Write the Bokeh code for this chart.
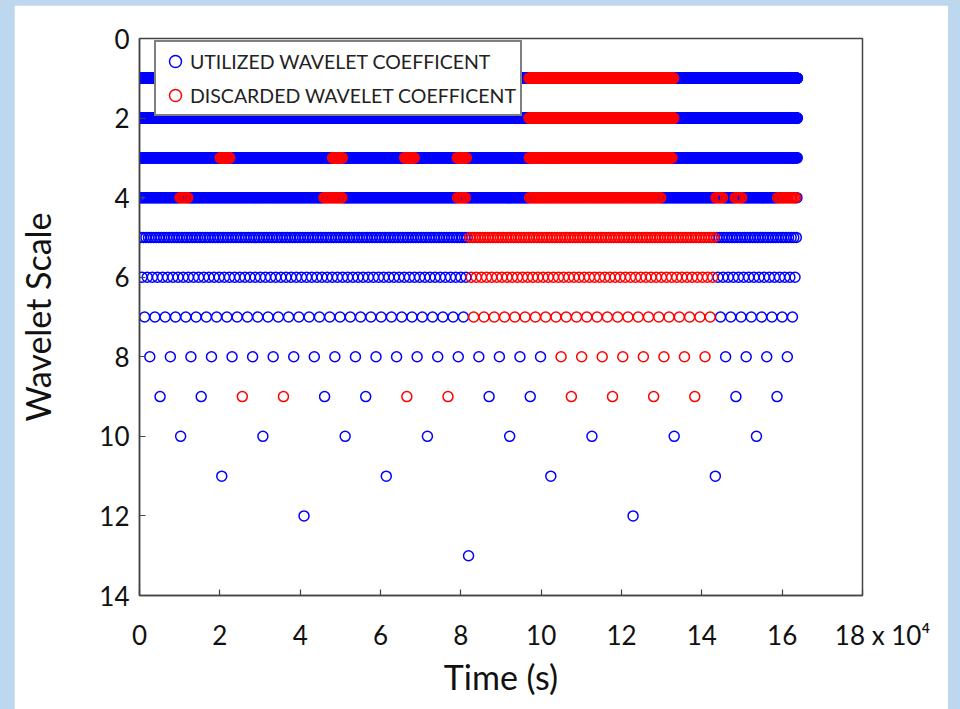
import numpy as np
from bokeh.plotting import figure
from bokeh.models import (Range1d, ColumnDataSource, Legend, LegendItem,
                          GlobalInlineStyleSheet)
from bokeh.embed import file_html
from bokeh.resources import INLINE

# ---- data -------------------------------------------------------------
scales = list(range(1, 14))          # wavelet scale levels
n_samples = 8192                     # signal length (samples)
dt_s = 20.0                          # sampling interval (s)
time_unit = 1e4                      # axis shown in units of 10^4 s

# discarded-coefficient time intervals (in 10^4 s)
disc_scale = [1, 2, 3, 3, 3, 3, 3, 4, 4, 4, 4, 4, 4, 4, 5, 6, 7, 8, 9, 9, 9]
disc_start = [9.70, 9.70, 2.00, 4.80, 6.59, 7.90, 9.69, 0.98, 4.58, 7.90, 9.69,
              14.33, 14.83, 15.87, 8.192, 8.192, 8.192, 10.24, 2.30, 6.40, 10.50]
disc_end = [13.30, 13.30, 2.25, 5.05, 6.84, 8.15, 13.27, 1.20, 5.05, 8.13, 13.00,
            14.53, 15.02, 16.34, 14.336, 14.336, 14.336, 14.336, 3.80, 7.90, 14.00]

x_ticks = [0, 2, 4, 6, 8, 10, 12, 14, 16, 18]
y_ticks = [0, 2, 4, 6, 8, 10, 12, 14]
last_tick_label = "18 x 10\u2074"

legend_labels = ["UTILIZED WAVELET COEFFICENT", "DISCARDED WAVELET COEFFICENT"]

# ---- build point sets -------------------------------------------------
ux, uy, dx, dy = [], [], [], []
for j in scales:
    count = n_samples // 2 ** j
    xs = (np.arange(count) + 0.5) * (2 ** j) * dt_s / time_unit
    for x in xs:
        disc = any(s == j and a <= x <= b for s, a, b in zip(disc_scale, disc_start, disc_end))
        if disc:
            dx.append(x); dy.append(j)
        else:
            ux.append(x); uy.append(j)

src_u = ColumnDataSource(dict(x=ux, y=uy))
src_d = ColumnDataSource(dict(x=dx, y=dy))

FONT = "Lato"
BLUE = "#0000FF"
RED = "#FF0000"

p = figure(width=934, height=704, x_range=Range1d(0, 18), y_range=Range1d(14, 0),
           output_backend="svg", toolbar_location=None,
           min_border_left=123, min_border_right=86, min_border_top=33, min_border_bottom=114)
p.margin = (5, 0, 0, 14)
p.stylesheets = [GlobalInlineStyleSheet(css="html, body { background-color: #BDD7EE; }")]
p.background_fill_color = "white"
p.border_fill_color = "white"

r_u = p.scatter("x", "y", source=src_u, marker="circle", size=10, fill_color=None,
                line_color=BLUE, line_width=1.5)
r_d = p.scatter("x", "y", source=src_d, marker="circle", size=10, fill_color=None,
                line_color=RED, line_width=1.5)

p.grid.visible = False
p.outline_line_color = "#444444"
p.outline_line_width = 1.5

for ax in (p.xaxis[0], p.yaxis[0]):
    ax.major_tick_in = 6
    ax.major_tick_out = 0
    ax.minor_tick_line_color = None
    ax.axis_line_color = "#444444"
    ax.axis_line_width = 1.5
    ax.major_tick_line_color = "#444444"
    ax.major_tick_line_width = 1.2
    ax.major_label_text_font = FONT
    ax.major_label_text_font_size = "26px"
    ax.major_label_text_color = "#111111"
    ax.axis_label_text_font = FONT
    ax.axis_label_text_font_size = "34px"
    ax.axis_label_text_font_style = "normal"
    ax.axis_label_text_color = "#111111"

p.xaxis.ticker = x_ticks
p.yaxis.ticker = y_ticks
p.xaxis.major_label_overrides = {18: "\u00a0" * 6 + last_tick_label}
p.xaxis.axis_label = "Time (s)"
p.yaxis.axis_label = "Wavelet Scale"
p.xaxis.major_label_standoff = 23
p.xaxis.axis_label_standoff = 2
p.yaxis.major_label_standoff = 10
p.yaxis.axis_label_standoff = 38

legend = Legend(items=[LegendItem(label=legend_labels[0], renderers=[r_u]),
                       LegendItem(label=legend_labels[1], renderers=[r_d])],
                location=(15, 479))
legend.border_line_color = "black"
legend.border_line_width = 2
legend.background_fill_color = "white"
legend.background_fill_alpha = 1
legend.label_text_font = FONT
legend.label_text_font_size = "19.5px"
legend.label_text_color = "#222222"
legend.glyph_width = 30
legend.glyph_height = 30
legend.label_height = 30
legend.spacing = 4
legend.padding = 4
legend.label_standoff = 0
legend.margin = 0
p.add_layout(legend)

open("out.html", "w").write(file_html(p, INLINE))
